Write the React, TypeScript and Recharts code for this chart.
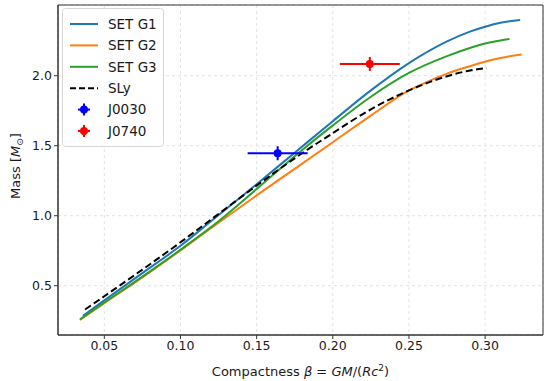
import React from 'react';
import {
  ComposedChart,
  Line,
  Scatter,
  ErrorBar,
  XAxis,
  YAxis,
  CartesianGrid,
  ReferenceArea,
  Label,
} from 'recharts';

// mass-compactness curves
const G1_BETA = [0.036, 0.05, 0.075, 0.1, 0.12, 0.15, 0.175, 0.2, 0.225, 0.25, 0.275, 0.29, 0.3, 0.31, 0.323];
const G1_MASS = [0.285, 0.395, 0.59, 0.785, 0.96, 1.225, 1.45, 1.675, 1.895, 2.09, 2.245, 2.315, 2.35, 2.378, 2.398];

const G2_BETA = [0.034, 0.05, 0.075, 0.1, 0.125, 0.15, 0.175, 0.2, 0.225, 0.25, 0.265, 0.275, 0.29, 0.3, 0.31, 0.324];
const G2_MASS = [0.255, 0.375, 0.56, 0.752, 0.95, 1.145, 1.335, 1.525, 1.715, 1.895, 1.97, 2.015, 2.068, 2.1, 2.127, 2.152];

const G3_BETA = [0.034, 0.05, 0.075, 0.1, 0.125, 0.15, 0.175, 0.2, 0.225, 0.25, 0.275, 0.29, 0.3, 0.31, 0.316];
const G3_MASS = [0.26, 0.38, 0.565, 0.757, 0.96, 1.19, 1.425, 1.645, 1.85, 2.02, 2.14, 2.198, 2.23, 2.252, 2.262];

const SLY_BETA = [0.0374, 0.05, 0.075, 0.1, 0.12, 0.15, 0.175, 0.2, 0.225, 0.25, 0.265, 0.28, 0.29, 0.301];
const SLY_MASS = [0.33, 0.425, 0.615, 0.81, 0.972, 1.215, 1.41, 1.59, 1.76, 1.895, 1.96, 2.012, 2.037, 2.055];

// pulsar measurements (centre, half-widths)
const J0030 = [{ beta: 0.1638, mass: 1.446, betaErr: 0.0197, massErr: 0.05 }];
const J0740 = [{ beta: 0.2243, mass: 2.084, betaErr: 0.0197, massErr: 0.05 }];

const X_TICKS = [0.05, 0.1, 0.15, 0.2, 0.25, 0.3];
const Y_TICKS = [0.5, 1.0, 1.5, 2.0];
const X_DOMAIN: [number, number] = [0.0196, 0.338];
const Y_DOMAIN: [number, number] = [0.148, 2.505];

const zip = (b: number[], m: number[]) => b.map((beta, i) => ({ beta, mass: m[i] }));

const CURVES = [
  { name: 'SET G1', color: '#1f77b4', data: zip(G1_BETA, G1_MASS), dash: undefined },
  { name: 'SET G2', color: '#ff7f0e', data: zip(G2_BETA, G2_MASS), dash: undefined },
  { name: 'SET G3', color: '#2ca02c', data: zip(G3_BETA, G3_MASS), dash: undefined },
  { name: 'SLy', color: '#000000', data: zip(SLY_BETA, SLY_MASS), dash: '7 3.5' },
];

const POINTS = [
  { name: 'J0030', color: '#0000ff', data: J0030 },
  { name: 'J0740', color: '#ff0000', data: J0740 },
];

const FONT = 'DejaVu Sans, sans-serif';
const TEXT = '#1a1a1a';

const LegendBox = () => {
  const rowH = 21.4;
  return (
    <svg
      width={103}
      height={140}
      style={{ position: 'absolute', left: 62, top: 8, fontFamily: FONT }}
    >
      <rect x={0.5} y={0.5} width={101} height={138} rx={3} fill="#fff" fillOpacity={0.8} stroke="#d6d6d6" />
      {CURVES.map((c, i) => (
        <g key={c.name}>
          <line
            x1={8}
            x2={36}
            y1={16 + i * rowH}
            y2={16 + i * rowH}
            stroke={c.color}
            strokeWidth={2}
            strokeDasharray={c.dash ? '6 3' : undefined}
          />
          <text x={46} y={16 + i * rowH + 4.8} fontSize={13.5} fill={TEXT}>
            {c.name}
          </text>
        </g>
      ))}
      {POINTS.map((p, j) => {
        const y = 16 + (j + 4) * rowH;
        return (
          <g key={p.name}>
            <line x1={16} x2={28} y1={y} y2={y} stroke={p.color} strokeWidth={2} />
            <line x1={22} x2={22} y1={y - 6} y2={y + 6} stroke={p.color} strokeWidth={2} />
            <circle cx={22} cy={y} r={4} fill={p.color} />
            <text x={46} y={y + 4.8} fontSize={13.5} fill={TEXT}>
              {p.name}
            </text>
          </g>
        );
      })}
    </svg>
  );
};

const XLabel = ({ viewBox }: any) => {
  const cx = viewBox.x + viewBox.width / 2;
  return (
    <text x={cx} y={376} textAnchor="middle" fontSize={13} fill={TEXT} fontFamily={FONT}>
      <tspan>Compactness </tspan>
      <tspan fontStyle="italic">β</tspan>
      <tspan> = </tspan>
      <tspan fontStyle="italic">GM</tspan>
      <tspan>/(</tspan>
      <tspan fontStyle="italic">Rc</tspan>
      <tspan fontSize={9} dy={-5}>2</tspan>
      <tspan dy={5}>)</tspan>
    </text>
  );
};

const YLabel = () => {
  const cy = 166;
  const x = 20;
  return (
    <text
      x={x}
      y={cy}
      textAnchor="middle"
      fontSize={13}
      fill={TEXT}
      fontFamily={FONT}
      transform={`rotate(-90 ${x} ${cy})`}
    >
      <tspan>Mass [</tspan>
      <tspan fontStyle="italic">M</tspan>
      <tspan fontSize={9} dy={3}>⊙</tspan>
      <tspan dy={-3}>]</tspan>
    </text>
  );
};

export default function App() {
  return (
    <div style={{ position: 'absolute', left: 0, top: 0, width: 550, height: 381, background: '#fff' }}>
      <ComposedChart width={550} height={381} margin={{ top: 5, right: 7, bottom: 0, left: 0 }}>
        <CartesianGrid stroke="#e3e3e3" strokeDasharray="3 3" />
        <XAxis
          type="number"
          dataKey="beta"
          domain={X_DOMAIN}
          ticks={X_TICKS}
          allowDataOverflow
          height={46}
          tickFormatter={(v: number) => v.toFixed(2)}
          tick={{ fontSize: 12.5, fill: TEXT, fontFamily: FONT }}
          tickLine={{ stroke: '#333' }}
          axisLine={{ stroke: '#333' }}
          tickSize={4}
        >
          <Label content={XLabel} />
        </XAxis>
        <YAxis
          type="number"
          dataKey="mass"
          domain={Y_DOMAIN}
          ticks={Y_TICKS}
          allowDataOverflow
          width={58}
          tickFormatter={(v: number) => v.toFixed(1)}
          tick={{ fontSize: 12.5, fill: TEXT, fontFamily: FONT }}
          tickLine={{ stroke: '#333' }}
          axisLine={{ stroke: '#333' }}
          tickSize={4}
        >
          <Label content={YLabel} />
        </YAxis>
        <ReferenceArea
          x1={X_DOMAIN[0]}
          x2={X_DOMAIN[1]}
          y1={Y_DOMAIN[0]}
          y2={Y_DOMAIN[1]}
          fill="none"
          stroke="#333"
          strokeWidth={1}
        />
        {CURVES.map((c) => (
          <Line
            key={c.name}
            data={c.data}
            dataKey="mass"
            type="monotone"
            stroke={c.color}
            strokeWidth={2}
            strokeDasharray={c.dash}
            dot={false}
            activeDot={false}
            isAnimationActive={false}
          />
        ))}
        {POINTS.map((p) => (
          <Scatter
            key={p.name}
            data={p.data}
            dataKey="mass"
            fill={p.color}
            isAnimationActive={false}
            shape={(props: any) => <circle cx={props.cx} cy={props.cy} r={4} fill={p.color} />}
          >
            <ErrorBar dataKey="betaErr" direction="x" width={0} stroke={p.color} strokeWidth={2} />
            <ErrorBar dataKey="massErr" direction="y" width={0} stroke={p.color} strokeWidth={2} />
          </Scatter>
        ))}
      </ComposedChart>
      <LegendBox />
    </div>
  );
}
